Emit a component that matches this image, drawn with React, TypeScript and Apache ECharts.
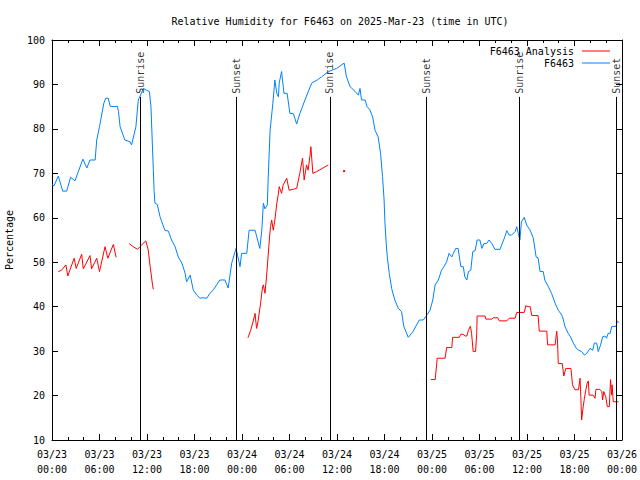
import React, { useEffect, useRef } from "react";
import * as echarts from "echarts";

// hours since 2025-03-23 00:00 UTC
const blueHours = [0.0, 0.25, 0.8, 1.35, 1.85, 2.35, 2.9, 3.9, 4.4, 4.8, 5.45, 5.65, 6.0, 6.55, 6.8, 7.1, 7.35, 7.95, 8.25, 8.4, 8.6, 9.2, 9.85, 10.05, 10.6, 10.9, 11.55, 11.95, 12.3, 12.5, 12.8, 12.9, 13.0, 13.3, 13.65, 14.25, 14.7, 15.1, 15.55, 15.95, 16.4, 16.8, 17.0, 17.45, 17.85, 18.3, 18.7, 19.1, 19.55, 19.95, 20.35, 20.8, 21.2, 21.85, 22.25, 22.7, 23.25, 23.75, 23.95, 24.6, 24.9, 25.65, 26.25, 26.5, 26.7, 26.9, 27.2, 27.3, 27.55, 27.9, 28.15, 28.4, 28.6, 28.7, 29.0, 29.3, 29.7, 30.05, 30.5, 30.9, 31.3, 31.95, 32.8, 33.5, 34.05, 34.9, 35.95, 36.9, 37.2, 37.65, 38.3, 38.7, 38.9, 39.1, 39.55, 39.8, 40.15, 40.5, 40.8, 41.2, 41.5, 41.75, 41.95, 42.05, 42.2, 42.35, 42.6, 42.9, 43.3, 43.75, 44.15, 44.45, 45.0, 45.6, 46.05, 46.4, 46.9, 47.35, 47.75, 48.1, 48.4, 48.8, 49.2, 49.55, 49.85, 50.15, 50.5, 50.7, 51.0, 51.3, 51.55, 51.65, 51.95, 52.15, 52.4, 52.6, 52.9, 53.15, 53.45, 53.7, 54.05, 54.3, 54.55, 54.9, 55.2, 55.55, 55.95, 56.6, 56.8, 57.2, 57.45, 57.75, 58.05, 58.5, 58.7, 58.9, 59.1, 59.3, 59.65, 59.95, 60.4, 60.8, 61.15, 61.4, 61.65, 62.05, 62.25, 62.7, 63.1, 63.55, 63.95, 64.4, 64.6, 64.8, 65.2, 65.5, 65.85, 66.25, 66.5, 66.9, 67.25, 67.55, 67.95, 68.3, 68.5, 68.8, 69.0, 69.3, 69.55, 69.85, 70.05, 70.25, 70.5, 70.7, 71.25, 71.4, 71.6];
const blueValues = [67.5, 67.2, 69.4, 66.0, 66.0, 69.1, 68.3, 73.2, 71.2, 73.0, 73.0, 77.5, 80.5, 85.8, 86.9, 86.9, 85.1, 85.0, 85.1, 83.9, 80.5, 77.5, 77.1, 76.4, 80.5, 86.5, 89.1, 88.7, 88.4, 85.0, 70.7, 65.9, 63.3, 63.0, 60.2, 57.2, 57.0, 55.0, 53.5, 51.2, 49.8, 47.6, 45.6, 47.1, 43.7, 42.6, 41.9, 42.0, 41.9, 43.0, 43.7, 44.9, 46.0, 46.0, 44.2, 49.8, 53.1, 49.0, 52.0, 52.0, 57.2, 57.2, 53.1, 57.2, 63.3, 62.0, 62.9, 68.5, 79.7, 85.8, 91.0, 88.0, 87.2, 90.3, 92.9, 88.0, 88.0, 83.5, 83.4, 81.1, 83.4, 86.5, 90.3, 91.0, 91.7, 92.9, 93.6, 94.8, 91.7, 89.5, 88.4, 87.6, 89.1, 86.5, 86.5, 85.0, 84.3, 82.7, 79.7, 78.2, 74.5, 69.3, 64.0, 59.1, 54.6, 51.2, 47.5, 44.1, 41.5, 39.6, 38.9, 35.5, 33.1, 34.4, 35.9, 37.0, 37.0, 38.1, 39.2, 41.5, 44.9, 46.0, 48.2, 49.1, 50.1, 52.0, 51.2, 52.0, 53.1, 53.1, 50.1, 49.0, 49.0, 46.7, 46.0, 47.9, 48.2, 52.4, 52.6, 55.0, 55.0, 53.1, 54.2, 54.2, 55.0, 54.2, 52.9, 52.9, 53.9, 55.7, 57.1, 56.1, 56.1, 56.9, 58.0, 56.5, 55.0, 59.1, 60.1, 58.4, 57.2, 55.4, 51.2, 51.0, 47.9, 47.9, 46.0, 44.5, 43.0, 40.8, 39.2, 38.1, 37.0, 35.5, 34.0, 33.2, 31.8, 30.6, 30.2, 29.9, 29.1, 29.5, 30.6, 30.2, 31.8, 31.8, 29.9, 31.4, 33.2, 33.4, 32.9, 34.0, 34.0, 35.5, 35.6, 36.8, 36.4];

const redHours = [0.8, 1.2, 1.75, 2.0, 2.25, 2.8, 3.05, 3.75, 3.95, 4.8, 5.0, 5.65, 6.0, 6.7, 7.05, 7.75, 8.1, 9.0, 9.75, 10.25, 10.8, 11.1, 11.85, 12.15, 12.4, 12.7, 12.8, 18.0, 24.75, 25.1, 25.45, 25.65, 25.75, 25.85, 26.05, 26.35, 26.6, 26.7, 26.9, 27.1, 27.45, 27.6, 27.75, 27.95, 28.15, 28.4, 28.6, 28.7, 29.0, 29.2, 29.65, 29.95, 30.9, 31.3, 31.65, 31.85, 32.15, 32.35, 32.6, 32.7, 32.95, 33.45, 34.9, 36.0, 36.9, 40.0, 47.85, 48.4, 48.6, 48.65, 49.65, 49.85, 50.5, 50.6, 51.45, 51.65, 51.95, 52.15, 52.4, 52.6, 52.85, 53.0, 53.2, 53.5, 53.65, 53.7, 54.7, 54.8, 55.55, 55.75, 56.3, 56.5, 57.45, 57.75, 58.5, 58.7, 59.65, 59.85, 60.15, 60.4, 60.6, 61.4, 61.55, 62.5, 62.6, 63.55, 63.75, 63.85, 63.95, 64.45, 64.65, 64.9, 65.55, 65.75, 66.05, 66.5, 66.7, 66.8, 66.9, 67.1, 67.25, 67.45, 67.6, 67.75, 67.85, 68.35, 68.6, 68.7, 69.2, 69.45, 69.55, 69.7, 69.95, 70.15, 70.4, 70.55, 70.7, 70.75, 70.9, 71.55];
const redValues: (number | null)[] = [47.9, 48.2, 49.4, 46.9, 48.2, 50.9, 48.6, 51.8, 48.5, 51.5, 48.5, 50.9, 47.9, 53.5, 50.9, 54.0, 51.1, null, 54.2, 53.5, 52.9, 53.5, 54.8, 52.8, 49.0, 44.9, 43.9, null, 33.0, 34.7, 37.0, 38.5, 36.6, 35.1, 37.0, 40.8, 44.5, 44.9, 43.0, 46.7, 55.0, 58.0, 59.5, 57.2, 59.5, 63.3, 65.5, 67.0, 65.5, 67.4, 68.9, 66.2, 66.6, 70.0, 73.4, 68.5, 71.9, 70.7, 74.1, 76.0, 70.0, 70.4, 71.9, null, 70.5, null, 23.6, 23.6, 27.2, 28.4, 28.4, 30.8, 30.8, 33.1, 33.1, 33.8, 33.8, 33.4, 33.4, 34.7, 35.6, 34.0, 29.9, 29.9, 34.0, 37.9, 37.9, 37.2, 37.2, 37.5, 37.5, 36.8, 36.8, 37.4, 37.4, 38.7, 38.7, 40.2, 40.0, 40.0, 38.0, 38.0, 34.5, 34.5, 31.4, 31.4, 34.5, 32.5, 27.2, 27.2, 24.4, 26.1, 26.1, 22.4, 21.3, 21.3, 23.9, 19.7, 14.5, 17.5, 19.4, 21.4, 22.8, 23.3, 20.1, 20.1, 19.4, 21.4, 21.4, 20.9, 19.0, 20.9, 19.7, 17.5, 17.5, 23.6, 20.1, 22.4, 18.6, 18.6];

const sunHours = [11.12, 23.33, 35.1, 47.33, 59.02, 71.3];
const sunLabels = ["Sunrise", "Sunset", "Sunrise", "Sunset", "Sunrise", "Sunset"];

const FONT = "DejaVu Sans Mono";

function fmtHour(h: number) {
  const day = 23 + Math.floor(h / 24);
  const hh = Math.round(h % 24);
  return `03/${day}\n${String(hh).padStart(2, "0")}:00`;
}

export default function App() {
  const ref = useRef<HTMLDivElement>(null);
  useEffect(() => {
    if (!ref.current) return;
    const chart = echarts.init(ref.current, null, { renderer: "svg" });

    const blueData = blueHours.map((h, i) => [h, blueValues[i]]);
    const redData = redHours.map((h, i) => {
      const v = redValues[i];
      const prev = i > 0 ? redValues[i - 1] : null;
      const next = i < redValues.length - 1 ? redValues[i + 1] : null;
      if (v !== null && prev === null && next === null) {
        return { value: [h, v], symbol: "rect", symbolSize: 2 };
      }
      return [h, v];
    });
    const sunData = sunHours.map((h, i) => [h, 87.9, sunLabels[i]]);

    const xBase = {
      type: "value",
      min: 0,
      max: 72,
      interval: 6,
      splitLine: { show: false },
      axisLine: { show: true, onZero: false, lineStyle: { color: "#000", width: 1 } },
      axisTick: { show: true, inside: true, length: 6, lineStyle: { color: "#000" } },
      minorTick: { show: true, splitNumber: 3, length: 3, lineStyle: { color: "#000" } },
    };
    const yBase = {
      type: "value",
      min: 10,
      max: 100,
      interval: 10,
      splitLine: { show: false },
      axisLine: { show: true, onZero: false, lineStyle: { color: "#000", width: 1 } },
      axisTick: { show: true, inside: true, length: 6, lineStyle: { color: "#000" } },
    };

    chart.setOption({
      animation: false,
      backgroundColor: "#fff",
      title: {
        text: "Relative Humidity for F6463 on 2025-Mar-23 (time in UTC)",
        left: 335,
        top: 11,
        textAlign: "center",
        textStyle: { fontFamily: FONT, fontSize: 10, fontWeight: "normal", color: "#000" },
      },
      legend: {
        orient: "vertical",
        right: 30,
        top: 46,
        padding: 0,
        align: "right",
        icon: "rect",
        itemWidth: 28,
        itemHeight: 1,
        itemGap: 2,
        data: ["F6463 Analysis", "F6463"],
        textStyle: { fontFamily: FONT, fontSize: 10, color: "#000", padding: [0, 3, 0, 0] },
        selectedMode: false,
      },
      grid: { left: 52, right: 18, top: 40, bottom: 40, containLabel: false, outerBoundsMode: "none" },
      xAxis: [
        {
          ...xBase,
          position: "bottom",
          axisLabel: {
            fontFamily: FONT,
            fontSize: 10,
            color: "#000",
            margin: 7,
            lineHeight: 15,
            formatter: (v: number) => fmtHour(v),
          },
        },
        { ...xBase, position: "top", axisLabel: { show: false } },
      ],
      yAxis: [
        {
          ...yBase,
          position: "left",
          name: "Percentage",
          nameLocation: "middle",
          nameGap: 38,
          nameTextStyle: { fontFamily: FONT, fontSize: 10, color: "#000" },
          axisLabel: { fontFamily: FONT, fontSize: 10, color: "#000", margin: 7 },
        },
        { ...yBase, position: "right", axisLabel: { show: false } },
      ],
      series: [
        {
          name: "F6463 Analysis",
          type: "line",
          data: redData,
          symbol: "none",
          showAllSymbol: true,
          connectNulls: false,
          itemStyle: { color: "#ff0000" },
          lineStyle: { color: "#ff0000", width: 1 },
          silent: true,
          z: 3,
        },
        {
          name: "F6463",
          type: "line",
          data: blueData,
          symbol: "none",
          itemStyle: { color: "#0080ff" },
          lineStyle: { color: "#0080ff", width: 1 },
          silent: true,
          z: 2,
        },
        {
          name: "sun",
          type: "scatter",
          data: sunData,
          symbolSize: 1,
          itemStyle: { color: "rgba(0,0,0,0)" },
          silent: true,
          z: 4,
          label: {
            show: true,
            position: "inside",
            rotate: 90,
            align: "left",
            verticalAlign: "middle",
            fontFamily: FONT,
            fontSize: 10,
            color: "#000",
            formatter: (p: any) => p.value[2],
          },
          markLine: {
            silent: true,
            symbol: "none",
            label: { show: false },
            lineStyle: { color: "#000", width: 1, type: "solid" },
            data: sunHours.map((h) => [{ coord: [h, 87.2] }, { coord: [h, 10] }]),
          },
        },
      ],
    });
    return () => chart.dispose();
  }, []);
  return (
    <div
      ref={ref}
      style={{ position: "absolute", left: 0, top: 0, width: 640, height: 480 }}
    />
  );
}
